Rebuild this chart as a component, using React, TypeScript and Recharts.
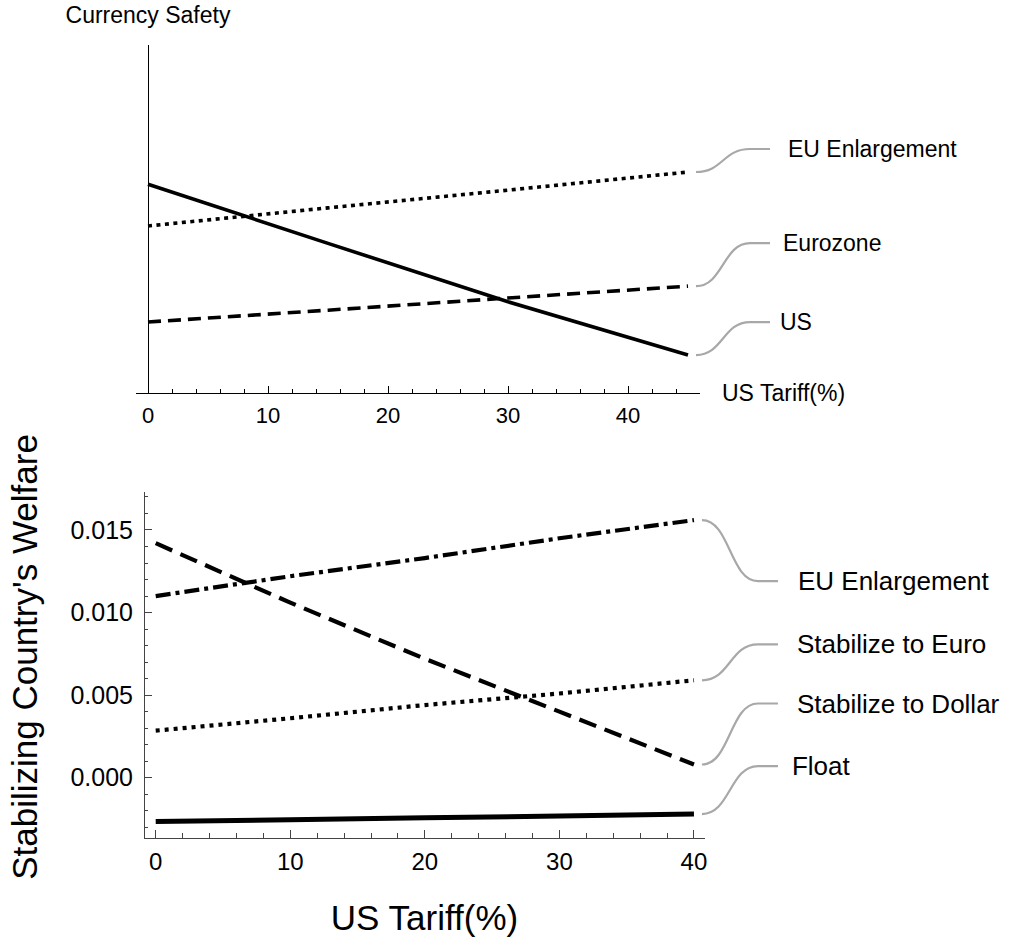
import React from 'react';
import { LineChart, Line, XAxis, YAxis, ReferenceLine } from 'recharts';

const FONT = '"Liberation Sans", Arial, Helvetica, sans-serif';

// top panel: currency safety vs US tariff (y has no units)
const safetyTariff = [0, 15, 30, 45];
const safetyUS = [0.6, 0.43, 0.262, 0.109];
const safetyEurozone = [0.204, 0.238, 0.273, 0.307];
const safetyEU = [0.48, 0.532, 0.583, 0.635];
const safetyTicks = [0, 2, 4, 6, 8, 10, 12, 14, 16, 18, 20, 22, 24, 26, 28, 30, 32, 34, 36, 38, 40, 42, 44];

// bottom panel: stabilizing country's welfare vs US tariff
const welfareTariff = [0, 10, 20, 30, 40];
const welfareEU = [0.011, 0.0122, 0.0133, 0.0145, 0.0156];
const welfareEuro = [0.00285, 0.0036, 0.0044, 0.0051, 0.0059];
const welfareDollar = [0.0142, 0.0106, 0.0072, 0.004, 0.0008];
const welfareFloat = [-0.00265, -0.00254, -0.00243, -0.00232, -0.0022];
const welfareXTicks = [0, 2, 4, 6, 8, 10, 12, 14, 16, 18, 20, 22, 24, 26, 28, 30, 32, 34, 36, 38, 40];
const welfareYTicks = [
  -0.003, -0.002, -0.001, 0, 0.001, 0.002, 0.003, 0.004, 0.005, 0.006, 0.007,
  0.008, 0.009, 0.01, 0.011, 0.012, 0.013, 0.014, 0.015, 0.016, 0.017,
];

const safetyData = safetyTariff.map((t, i) => ({
  tariff: t,
  us: safetyUS[i],
  eurozone: safetyEurozone[i],
  eu: safetyEU[i],
}));

const welfareData = welfareTariff.map((t, i) => ({
  tariff: t,
  eu: welfareEU[i],
  euro: welfareEuro[i],
  dollar: welfareDollar[i],
  float: welfareFloat[i],
}));

// styling for each curve + its callout (dy = vertical shift of label from line end)
const safetySeries = [
  { key: 'eu', name: 'EU Enlargement', dash: '4 4.5', dy: -23, dx: 100 },
  { key: 'eurozone', name: 'Eurozone', dash: '13 7', dy: -43, dx: 95 },
  { key: 'us', name: 'US', dash: undefined, dy: -33, dx: 92 },
];

const welfareSeries = [
  { key: 'eu', name: 'EU Enlargement', dash: '15 5 4 5', dy: 61, dx: 104, width: 4.2 },
  { key: 'euro', name: 'Stabilize to Euro', dash: '4 5', dy: -36, dx: 103, width: 4.2 },
  { key: 'dollar', name: 'Stabilize to Dollar', dash: '18 9', dy: -61, dx: 103, width: 4.2 },
  { key: 'float', name: 'Float', dash: undefined, dy: -48, dx: 98, width: 5 },
];

const makeCallout = (name: string, dy: number, dx: number, last: number, fontSize: number, reach: number) =>
  (props: any) => {
    const { cx, cy, index } = props;
    if (index !== last || cx == null || cy == null) return <g key={`d-${index}`} />;
    const x0 = cx + 8;
    const x1 = cx + reach;
    const x2 = cx + reach + 20;
    const y1 = cy + dy;
    const mid = (x1 - x0) / 2;
    return (
      <g key={`d-${index}`}>
        <path
          d={`M${x0},${cy} C${x0 + mid},${cy} ${x1 - mid},${y1} ${x1},${y1} L${x2},${y1}`}
          stroke="#a8a8a8"
          strokeWidth={2.2}
          fill="none"
        />
        <text x={cx + dx} y={y1} dy="0.35em" fontSize={fontSize} fontFamily={FONT} fill="#000">
          {name}
        </text>
      </g>
    );
  };

const SafetyXTick = (props: any) => {
  const { x, y, payload } = props;
  const major = payload.value % 10 === 0;
  return (
    <g>
      <line x1={x} x2={x} y1={y} y2={y - (major ? 7 : 4)} stroke="#000" strokeWidth={1} shapeRendering="crispEdges" />
      {major && (
        <text x={x} y={y + 22} dy="0.35em" textAnchor="middle" fontSize={22} fontFamily={FONT} fill="#000">
          {payload.value}
        </text>
      )}
    </g>
  );
};

const WelfareXTick = (props: any) => {
  const { x, y, payload } = props;
  const major = payload.value % 10 === 0;
  return (
    <g>
      <line x1={x} x2={x} y1={y} y2={y - (major ? 8 : 5)} stroke="#444" strokeWidth={1} shapeRendering="crispEdges" />
      {major && (
        <text x={x} y={y + 24} dy="0.35em" textAnchor="middle" fontSize={24} fontFamily={FONT} fill="#000">
          {payload.value}
        </text>
      )}
    </g>
  );
};

const WelfareYTick = (props: any) => {
  const { x, y, payload } = props;
  const major = Math.round(payload.value * 1000) % 5 === 0;
  return (
    <g>
      <line x1={x} x2={x + (major ? 8 : 4)} y1={y} y2={y} stroke="#444" strokeWidth={1} shapeRendering="crispEdges" />
      {major && (
        <text x={x - 11} y={y} dy="0.35em" textAnchor="end" fontSize={25} fontFamily={FONT} fill="#000">
          {payload.value.toFixed(3)}
        </text>
      )}
    </g>
  );
};

const SafetyPanel = () => {
  const last = safetyData.length - 1;
  return (
    <LineChart
      width={1011}
      height={942}
      data={safetyData}
      margin={{ top: 45, left: 136, right: 311, bottom: 519 }}
    >
      <XAxis
        dataKey="tariff"
        type="number"
        domain={[-1, 46]}
        ticks={safetyTicks}
        interval={0}
        height={30}
        tickSize={0}
        tickMargin={0}
        tickLine={false}
        axisLine={{ stroke: '#000', strokeWidth: 1, shapeRendering: 'crispEdges' }}
        tick={(p: any) => <SafetyXTick {...p} />}
        label={(p: any) => {
          const vb = p.viewBox || {};
          return (
            <text x={vb.x + vb.width + 22} y={vb.y} dy="0.35em" fontSize={23} fontFamily={FONT} fill="#000">
              US Tariff(%)
            </text>
          );
        }}
      />
      <YAxis type="number" domain={[0, 1]} hide width={0} />
      <ReferenceLine
        x={0}
        stroke="#000"
        strokeWidth={1}
        shapeRendering="crispEdges"
        label={{ value: 'Currency Safety', position: 'top', offset: 22, fontSize: 23, fill: '#000', fontFamily: FONT }}
      />
      {safetySeries.map((s) => (
        <Line
          key={s.key}
          dataKey={s.key}
          stroke="#000"
          strokeWidth={3.6}
          strokeDasharray={s.dash}
          dot={makeCallout(s.name, s.dy, s.dx, last, 23, 62)}
          activeDot={false}
          isAnimationActive={false}
        />
      ))}
    </LineChart>
  );
};

const WelfarePanel = () => {
  const last = welfareData.length - 1;
  return (
    <LineChart
      width={1011}
      height={942}
      data={welfareData}
      margin={{ top: 492, left: 84, right: 306, bottom: 74 }}
    >
      <XAxis
        dataKey="tariff"
        type="number"
        domain={[-0.87, 40.82]}
        ticks={welfareXTicks}
        interval={0}
        height={30}
        tickSize={0}
        tickMargin={0}
        tickLine={false}
        axisLine={{ stroke: '#444', strokeWidth: 1, shapeRendering: 'crispEdges' }}
        tick={(p: any) => <WelfareXTick {...p} />}
        label={(p: any) => {
          const vb = p.viewBox || {};
          return (
            <text x={vb.x + vb.width / 2} y={vb.y + 80} dy="0.35em" textAnchor="middle" fontSize={35} fontFamily={FONT} fill="#000">
              US Tariff(%)
            </text>
          );
        }}
      />
      <YAxis
        type="number"
        domain={[-0.00365, 0.0173]}
        ticks={welfareYTicks}
        interval={0}
        width={60}
        tickSize={0}
        tickMargin={0}
        tickLine={false}
        axisLine={{ stroke: '#444', strokeWidth: 1, shapeRendering: 'crispEdges' }}
        tick={(p: any) => <WelfareYTick {...p} />}
        label={(p: any) => {
          const vb = p.viewBox || {};
          const cx = vb.x + vb.width - 119;
          const cy = vb.y + vb.height / 2 - 8;
          return (
            <text
              x={cx}
              y={cy}
              dy="0.35em"
              textAnchor="middle"
              transform={`rotate(-90, ${cx}, ${cy})`}
              fontSize={35}
              fontFamily={FONT}
              fill="#000"
            >
              Stabilizing Country's Welfare
            </text>
          );
        }}
      />
      {welfareSeries.map((s) => (
        <Line
          key={s.key}
          dataKey={s.key}
          stroke="#000"
          strokeWidth={s.width}
          strokeDasharray={s.dash}
          dot={makeCallout(s.name, s.dy, s.dx, last, 26, 64)}
          activeDot={false}
          isAnimationActive={false}
        />
      ))}
    </LineChart>
  );
};

export default function App() {
  return (
    <div style={{ position: 'absolute', left: 0, top: 0, width: 1011, height: 942, background: '#fff', fontFamily: FONT }}>
      <div style={{ position: 'absolute', left: 0, top: 0 }}>
        <SafetyPanel />
      </div>
      <div style={{ position: 'absolute', left: 0, top: 0 }}>
        <WelfarePanel />
      </div>
    </div>
  );
}
